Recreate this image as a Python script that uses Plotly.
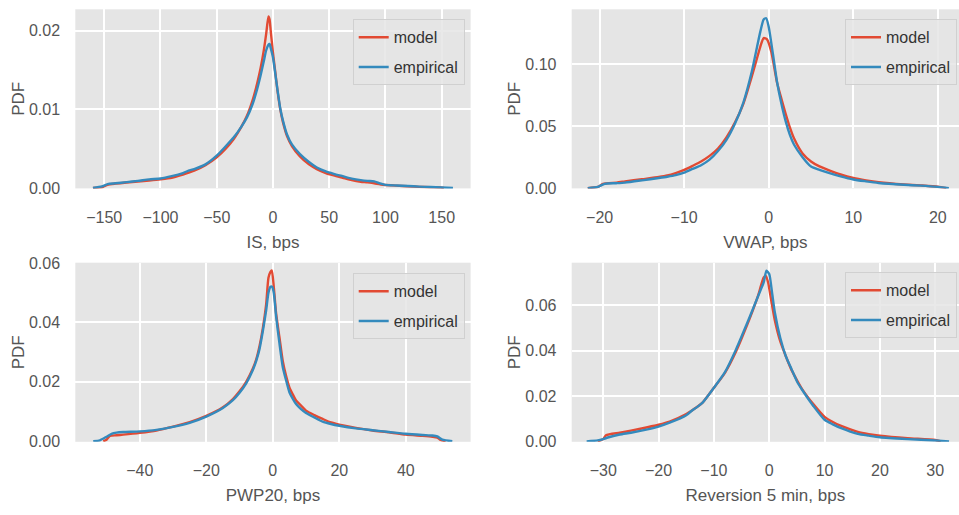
import plotly.graph_objects as go

# ---------------- data ----------------
is_x_model = [-160, -152, -147, -140, -130, -120, -110, -100, -90, -80, -70, -60, -50, -42, -35,
              -28, -23, -18, -14, -11, -8, -6, -4, -3, -2, 0, 2, 4, 6.5, 9, 12.5, 17, 24, 32, 39,
              47, 54, 62, 70, 78, 84, 90, 98, 110, 120, 130, 140, 149, 152]
is_y_model = [0, 0.0001, 0.0004, 0.00055, 0.0007, 0.00082, 0.00095, 0.0011, 0.0013, 0.0017,
              0.0022, 0.0029, 0.0039, 0.005, 0.0062, 0.0078, 0.0092, 0.0112, 0.0133, 0.0152,
              0.0176, 0.0196, 0.0218, 0.0214, 0.0200, 0.0172, 0.0148, 0.0124, 0.0100, 0.0083,
              0.0066, 0.0053, 0.004, 0.003, 0.0024, 0.0019, 0.0016, 0.0013, 0.001, 0.0008,
              0.00072, 0.0006, 0.00042, 0.0003, 0.00022, 0.00015, 0.0001, 0.00006, 0]
is_x_emp = [-160, -152, -147, -140, -130, -120, -110, -100, -90, -80, -75, -70, -60, -50, -42,
            -35, -28, -23, -18, -14, -11, -8, -6, -4, -3, -2, 0, 2, 4, 6.5, 9, 12.5, 17, 24, 32,
            39, 47, 54, 62, 70, 78, 84, 90, 95, 100, 110, 120, 130, 140, 150, 160]
is_y_emp = [0, 0.0002, 0.0005, 0.0006, 0.00075, 0.0009, 0.0011, 0.0012, 0.0015, 0.0019,
            0.0022, 0.0024, 0.003, 0.0041, 0.0053, 0.0064, 0.0078, 0.009, 0.0107, 0.0126,
            0.0143, 0.0162, 0.0175, 0.0182, 0.0183, 0.0178, 0.0166, 0.0146, 0.0125, 0.0101,
            0.0085, 0.0068, 0.0055, 0.0043, 0.0033, 0.0026, 0.0021, 0.0018, 0.0015, 0.0012,
            0.001, 0.0009, 0.00085, 0.0006, 0.0004, 0.00032, 0.00025, 0.00018, 0.00012, 0.00006, 0]

vwap_x_model = [-21.4, -20.2, -19.6, -18, -17, -15, -13, -12, -11, -10, -9, -8, -7, -6, -5, -4,
                -3, -2, -1.5, -1, -0.6, -0.2, 0.3, 1, 1.5, 2, 2.5, 3, 4, 5, 6, 7, 8.5, 10, 11.5,
                13, 16, 18, 20, 21]
vwap_y_model = [0, 0.001, 0.0035, 0.0045, 0.0054, 0.0072, 0.009, 0.0102, 0.0122, 0.0147, 0.018,
                0.0215, 0.026, 0.032, 0.041, 0.053, 0.068, 0.09, 0.102, 0.114, 0.121, 0.12, 0.110,
                0.0845, 0.072, 0.060, 0.049, 0.040, 0.028, 0.0215, 0.0175, 0.0147, 0.011, 0.0082,
                0.0063, 0.0048, 0.003, 0.0022, 0.0012, 0]
vwap_x_emp = [-21.4, -20.2, -19.4, -18, -17, -15, -13, -12, -11, -10, -9, -8, -7, -6, -5, -4, -3,
              -2, -1.5, -1, -0.6, -0.3, 0, 0.5, 1, 1.5, 2, 2.5, 3, 4, 5, 6, 7, 8.5, 10, 11.5, 13,
              16, 18, 20, 21.3]
vwap_y_emp = [0, 0.001, 0.0035, 0.004, 0.0045, 0.0063, 0.0082, 0.0092, 0.0105, 0.0125, 0.0155,
              0.0185, 0.023, 0.030, 0.039, 0.052, 0.069, 0.094, 0.110, 0.126, 0.136, 0.137, 0.130,
              0.108, 0.085, 0.068, 0.054, 0.043, 0.035, 0.025, 0.0175, 0.0148, 0.0125, 0.0095,
              0.007, 0.0055, 0.0042, 0.0027, 0.002, 0.001, 0]

pwp_x_model = [-51, -50, -49, -47, -45, -40, -35, -30, -25, -20, -15, -12, -10, -8, -6, -5, -4,
               -3, -2, -1.3, -0.7, -0.3, 0.3, 1, 2, 3, 4, 5, 6, 7, 8.5, 10, 12.5, 15, 17.5, 20,
               25, 30, 35, 40, 45, 48, 49.5, 50.5, 52]
pwp_y_model = [0, 0.0005, 0.0018, 0.002, 0.0022, 0.0028, 0.0036, 0.0049, 0.0064, 0.0085, 0.0114,
               0.0142, 0.0168, 0.02, 0.0245, 0.0275, 0.032, 0.038, 0.046, 0.055, 0.057, 0.0575,
               0.052, 0.043, 0.035, 0.027, 0.022, 0.0181, 0.0158, 0.0137, 0.012, 0.0103, 0.0088,
               0.0075, 0.0063, 0.0056, 0.0045, 0.0036, 0.003, 0.0022, 0.0018, 0.0015, 0.0012,
               0.0004, 0]
pwp_x_emp = [-54, -52, -50, -48.5, -47, -45, -40, -35, -30, -25, -20, -15, -12, -10, -8, -6, -5,
             -4, -3, -2, -1.3, -0.7, -0.2, 0.3, 1, 2, 3, 4, 5, 6, 7, 8.5, 10, 12.5, 15, 17.5, 20,
             25, 30, 35, 40, 45, 48, 49.5, 51, 54]
pwp_y_emp = [0, 0.0003, 0.0015, 0.0025, 0.0029, 0.0031, 0.0033, 0.0038, 0.0048, 0.0062, 0.0083,
             0.0112, 0.0138, 0.0163, 0.0195, 0.024, 0.027, 0.031, 0.037, 0.044, 0.05, 0.052,
             0.052, 0.05, 0.042, 0.033, 0.025, 0.0205, 0.0165, 0.0143, 0.0125, 0.0108, 0.0095,
             0.008, 0.0066, 0.0058, 0.0052, 0.0043, 0.0037, 0.0031, 0.0025, 0.0021, 0.0019,
             0.0016, 0.0005, 0]

rev_x_model = [-31, -30, -29.5, -27, -25, -22, -20, -18, -15, -13, -12, -10, -8, -6, -4, -3, -2,
               -1.5, -1, -0.6, -0.2, 0.3, 1, 2, 3, 4, 5, 6, 8, 10, 11.5, 13, 16, 18, 20, 25, 30, 31]
rev_y_model = [0, 0.001, 0.0027, 0.0038, 0.0047, 0.0062, 0.0073, 0.0087, 0.012, 0.0152, 0.0172,
               0.0236, 0.0302, 0.0396, 0.0512, 0.0575, 0.0643, 0.0685, 0.0722, 0.0728, 0.07,
               0.063, 0.0535, 0.044, 0.0375, 0.0316, 0.027, 0.0228, 0.0163, 0.0108, 0.0085,
               0.0068, 0.0042, 0.0032, 0.0025, 0.0014, 0.0006, 0]
rev_x_emp = [-33, -31, -30, -29, -27, -25, -22, -20, -18, -15, -14, -13, -12, -10, -8, -6, -4, -3,
             -2, -1.5, -1, -0.5, 0, 0.5, 1, 2, 3, 4, 5, 6, 8, 10, 11.5, 13, 16, 18, 20, 25, 30, 32.5]
rev_y_emp = [0, 0.0004, 0.001, 0.0018, 0.003, 0.0038, 0.0053, 0.0065, 0.0082, 0.0115, 0.0135,
             0.0152, 0.0172, 0.0236, 0.0305, 0.0405, 0.052, 0.058, 0.064, 0.067, 0.07, 0.0752,
             0.0737, 0.0657, 0.057, 0.0455, 0.0375, 0.032, 0.0265, 0.0225, 0.0155, 0.0095,
             0.0075, 0.0058, 0.0033, 0.0025, 0.0018, 0.001, 0.0004, 0]

x_titles = ["IS, bps", "VWAP, bps", "PWP20, bps", "Reversion 5 min, bps"]
x_ticks = [[-150, -100, -50, 0, 50, 100, 150],
           [-20, -10, 0, 10, 20],
           [-40, -20, 0, 20, 40],
           [-30, -20, -10, 0, 10, 20, 30]]
y_ticks = [[0, 0.01, 0.02],
           [0, 0.05, 0.10],
           [0, 0.02, 0.04, 0.06],
           [0, 0.02, 0.04, 0.06]]
series_names = ["model", "empirical"]

# ---------------- styling / layout ----------------
RED = "#E24A33"
BLUE = "#348ABD"
BG = "#E5E5E5"
TXT = "#555555"
FONT = "Liberation Sans, Arial, sans-serif"
FS = 16

W, H = 959, 515
# pixel boxes of the four panels: (left, top, right, bottom)
boxes = [(75.3, 9.3, 470.6, 188.4),
         (571.7, 9.3, 959.0, 188.4),
         (75.3, 262.7, 470.6, 441.8),
         (571.7, 262.7, 959.0, 441.8)]
x_ranges = [[-175.7, 175.7], [-23.3, 22.5], [-59.4, 59.5], [-35.7, 34.3]]
y_ranges = [[-0.00005, 0.0227], [-0.0002, 0.1442], [-0.0002, 0.0601], [-0.0002, 0.0787]]
legend_pos = [(352.7, 19.3), (845.0, 19.3), (352.7, 273.3), (845.0, 272.3)]

panels = [(is_x_model, is_y_model, is_x_emp, is_y_emp),
          (vwap_x_model, vwap_y_model, vwap_x_emp, vwap_y_emp),
          (pwp_x_model, pwp_y_model, pwp_x_emp, pwp_y_emp),
          (rev_x_model, rev_y_model, rev_x_emp, rev_y_emp)]

fig = go.Figure()
layout = dict(width=W, height=H, margin=dict(l=0, r=0, t=0, b=0, autoexpand=False),
              paper_bgcolor="white", plot_bgcolor=BG,
              font=dict(family=FONT, size=FS, color=TXT))

for i, (xm, ym, xe, ye) in enumerate(panels):
    n = "" if i == 0 else str(i + 1)
    leg = "legend" + n
    for j, (xs, ys, col) in enumerate([(xm, ym, RED), (xe, ye, BLUE)]):
        fig.add_trace(go.Scatter(
            x=xs, y=ys, mode="lines", name=series_names[j],
            line=dict(color=col, width=2.4, shape="spline", smoothing=0.6),
            xaxis="x" + n, yaxis="y" + n, legend=leg,
            legendgroup=f"g{i}{j}"))
    l, t, r, b = boxes[i]
    layout["xaxis" + n] = dict(
        domain=[l / W, r / W], anchor="y" + n, range=x_ranges[i], automargin=False,
        tickvals=x_ticks[i], showgrid=True, gridcolor="white", gridwidth=1.6,
        zeroline=False, showline=False, ticks="outside", ticklen=14,
        tickcolor="rgba(0,0,0,0)", tickfont=dict(size=FS, color=TXT),
        title=dict(text=x_titles[i], standoff=11, font=dict(size=FS + 1, color=TXT)))
    layout["yaxis" + n] = dict(
        domain=[1 - b / H, 1 - t / H], anchor="x" + n, range=y_ranges[i], automargin=False,
        tickvals=y_ticks[i], tickformat=".2f", showgrid=True, gridcolor="white",
        gridwidth=1.6, zeroline=False, showline=False, ticks="outside", ticklen=11,
        tickcolor="rgba(0,0,0,0)", tickfont=dict(size=FS, color=TXT),
        title=dict(text="PDF", standoff=0, font=dict(size=FS + 1, color=TXT)))
    lx, ly = legend_pos[i]
    layout[leg] = dict(x=lx / W, y=1 - ly / H, xanchor="left", yanchor="top",
                       xref="paper", yref="paper",
                       bgcolor="rgba(229,229,229,0.85)", bordercolor="#D0D0D0",
                       borderwidth=1, font=dict(size=FS, color="#333333"),
                       traceorder="grouped", tracegroupgap=6, itemwidth=30)

fig.update_layout(**layout)
fig.write_html("out.html", config={"displayModeBar": False},
               post_script="document.body.style.margin='0';document.body.style.padding='0';")
